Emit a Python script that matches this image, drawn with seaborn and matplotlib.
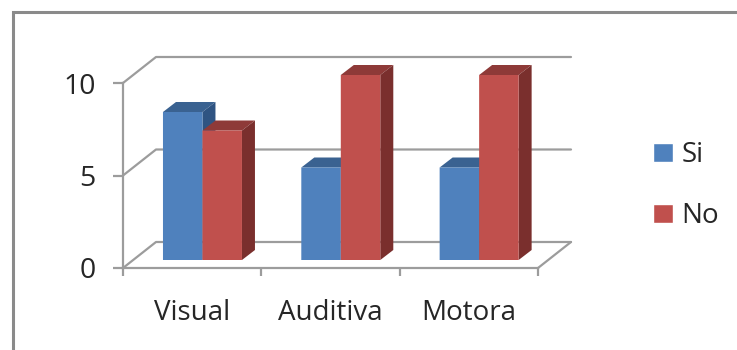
import matplotlib
matplotlib.use("Agg")
import matplotlib.pyplot as plt
from matplotlib.lines import Line2D
from matplotlib.patches import Polygon
from matplotlib.transforms import Affine2D, IdentityTransform
import pandas as pd
import seaborn as sns

categories = ["Visual", "Auditiva", "Motora"]
si_values = [8, 5, 5]
no_values = [7, 10, 10]
series_names = ["Si", "No"]
y_ticks = [0, 5, 10]

front_colors = ["#4F81BD", "#C0504D"]
top_colors = ["#3A6291", "#8E3A38"]
side_colors = ["#2F5482", "#7A2F2D"]
GRID = "#9C9C9C"
W, H = 737, 350

sns.set_theme(style="white")
plt.rcParams["font.family"] = ["Open Sans", "DejaVu Sans"]

df = pd.DataFrame({
    "cat": categories * 2,
    "serie": [series_names[0]] * 3 + [series_names[1]] * 3,
    "val": si_values + no_values,
})

fig = plt.figure(figsize=(W / 100, H / 100), dpi=100, facecolor="white")
ax = fig.add_axes([123 / W, (H - 268) / H, 415 / W, 185 / H])
sns.barplot(data=df, x="cat", y="val", hue="serie", hue_order=series_names,
            palette=front_colors, width=0.571, gap=0, saturation=1, ax=ax,
            errorbar=None, legend=True)
ax.set_xlim(-0.5, 2.5)
ax.set_ylim(0, 10)
ax.set_xlabel("")
ax.set_ylabel("")
ax.set_facecolor("none")

# axis styling
for s in ["top", "right"]:
    ax.spines[s].set_visible(False)
for s in ["left", "bottom"]:
    ax.spines[s].set_color(GRID)
    ax.spines[s].set_linewidth(1.6)
ax.set_yticks(y_ticks)
ax.set_xticks(range(len(categories)))
ax.set_xticklabels(categories)
ax.set_xticks([i - 0.5 for i in range(len(categories) + 1)], minor=True)
ax.tick_params(axis="y", which="major", left=True, length=7.5, width=1.6, color=GRID,
               labelsize=20.5, labelcolor="#262626", pad=12)
ax.tick_params(axis="x", which="major", bottom=False, labelsize=20,
               labelcolor="#262626", pad=16)
ax.tick_params(axis="x", which="minor", bottom=True, length=6, width=1.6, color=GRID)

# pixel displacements of the pseudo-3D projection
WALL = (33, 26)      # floor depth: front plane to back wall
BAR_SHIFT = (10.3, 8)  # bars stand inside the floor
DEPTH = (13, 10)     # bar depth

def disp(x, y, shift=(0, 0)):
    px, py = ax.transData.transform((x, y))
    return px + shift[0], py + shift[1]

# walls and floor
x0, x1 = ax.get_xlim()
for v in y_ticks:
    a, b = disp(x0, v), disp(x0, v, WALL)
    c = disp(x1, v, WALL)
    fig.add_artist(Line2D([a[0], b[0], c[0]], [a[1], b[1], c[1]], color=GRID, lw=1.6,
                          transform=IdentityTransform(), zorder=1))
a, b = disp(x1, 0), disp(x1, 0, WALL)
fig.add_artist(Line2D([a[0], b[0]], [a[1], b[1]], color=GRID, lw=1.6,
                      transform=IdentityTransform(), zorder=1))

# bars: shift the front faces, add side and top faces
ax.set_zorder(2)
z = 3.0
for s_i, container in enumerate(ax.containers):
    for bar in container:
        bx, by, bw, bh = bar.get_x(), bar.get_y(), bar.get_width(), bar.get_height()
        bar.set_transform(ax.transData + Affine2D().translate(*BAR_SHIFT))
        bar.set_clip_on(False)
        bar.set_snap(False)
        bar.set_edgecolor("none")
        bar.set_linewidth(0)
        bar.set_zorder(10)
        bl = disp(bx, by, BAR_SHIFT)
        br = disp(bx + bw, by, BAR_SHIFT)
        tl = disp(bx, by + bh, BAR_SHIFT)
        tr = disp(bx + bw, by + bh, BAR_SHIFT)
        off = lambda p: (p[0] + DEPTH[0], p[1] + DEPTH[1])
        ax.add_patch(Polygon([tl, tr, off(tr), off(tl)], closed=True, facecolor=top_colors[s_i],
                             edgecolor="none", transform=IdentityTransform(), clip_on=False, zorder=z))
        ax.add_patch(Polygon([br, tr, off(tr), off(br)], closed=True, facecolor=side_colors[s_i],
                             edgecolor="none", transform=IdentityTransform(), clip_on=False, zorder=z))
    z += 1

# legend
sns.move_legend(ax, loc="upper left", bbox_to_anchor=(653 / W, (H - 141) / H),
                bbox_transform=fig.transFigure, title=None, frameon=False, fontsize=20,
                handlelength=0.72, handleheight=0.68, handletextpad=0.3, labelspacing=1.2,
                borderpad=0, borderaxespad=0)
for t in ax.get_legend().get_texts():
    t.set_color("#262626")

# picture frame
px, py = 12.5 / W, (H - 11.5) / H
fig.add_artist(Line2D([px, px, 1], [0, py, py], color="#8A8A8A", lw=2.2,
                      transform=fig.transFigure, solid_joinstyle="miter", zorder=0))

fig.savefig("out.png", dpi=100, facecolor="white")
